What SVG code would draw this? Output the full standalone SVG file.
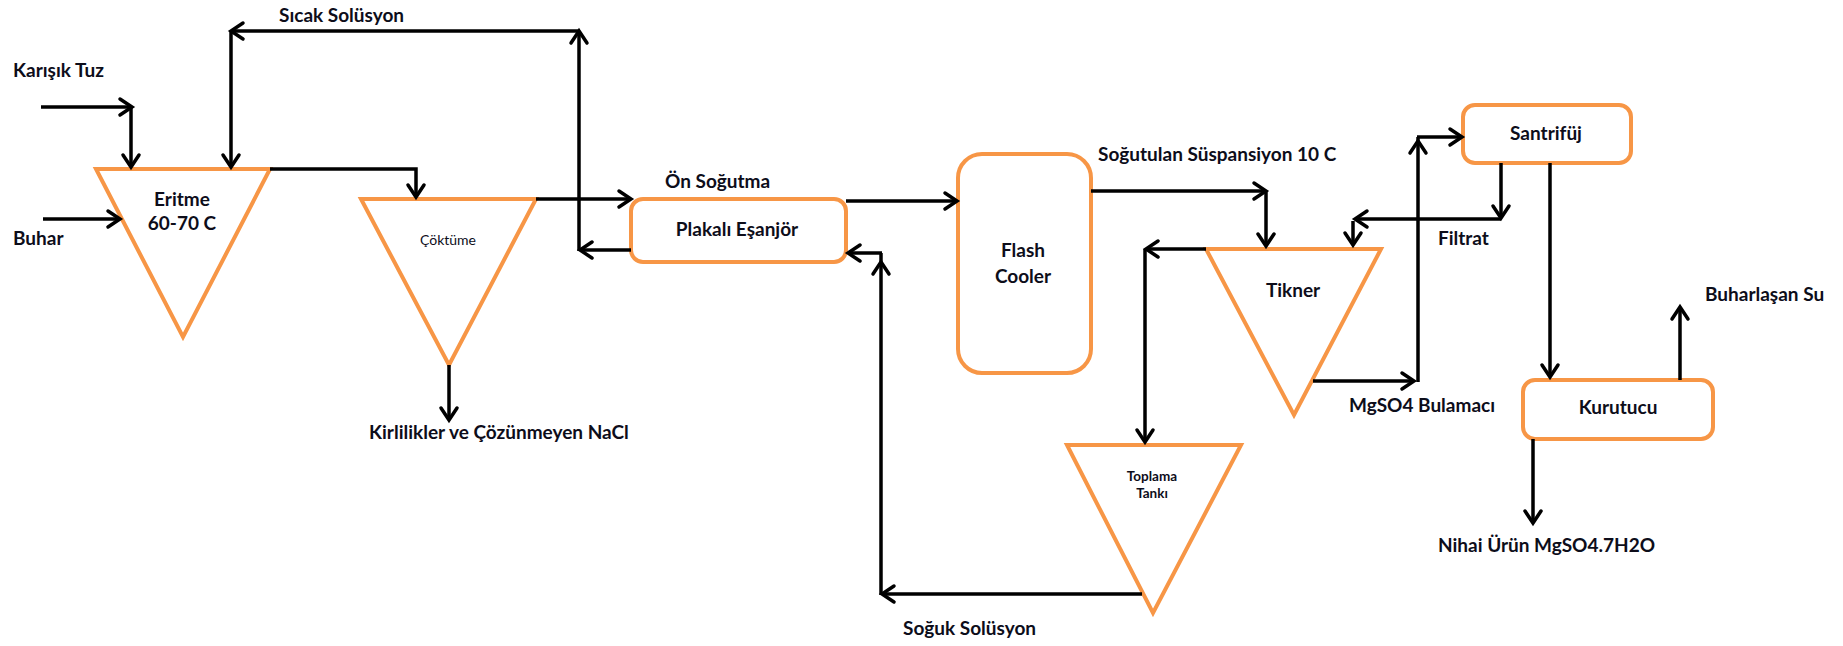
<svg xmlns="http://www.w3.org/2000/svg" width="1843" height="646" viewBox="0 0 1843 646">
  <defs>
    <marker id="arrow" viewBox="-14 -10 16 20" refX="0" refY="0" markerWidth="16" markerHeight="20" markerUnits="userSpaceOnUse" orient="auto" overflow="visible">
      <path d="M-12,-8 L0,0 L-12,8" fill="none" stroke="#000" stroke-width="3.5" stroke-linecap="round" stroke-linejoin="miter"/>
    </marker>
    <style>
      .unit { fill: #fff; stroke: #F79646; stroke-width: 4; stroke-linejoin: miter; }
      .flow { fill: none; stroke: #000; stroke-width: 3.5; }
      .flow.a { marker-end: url(#arrow); }
      text { font-family: Lato, "Open Sans", "Liberation Sans", sans-serif; font-weight: bold; fill: #0d0d1a; font-size: 19px; }
      .mid { text-anchor: middle; }
      .small { font-size: 13.5px; }
      .thin { font-weight: normal; font-size: 14px; }
    </style>
  </defs>
  <rect width="1843" height="646" fill="#fff"/>

  <!-- process units -->
  <g id="eritme">
    <polygon class="unit" points="96,169 270,169 183,337"/>
    <text class="mid" x="182" y="206">Eritme</text>
    <text class="mid" x="182" y="230">60-70 C</text>
  </g>
  <g id="cokturme">
    <polygon class="unit" points="361,199 536,199 449,365"/>
    <text class="mid thin" x="448" y="245">Çöktüme</text>
  </g>
  <g id="plakali-esanjor">
    <rect class="unit" x="631" y="199" width="215" height="63" rx="12"/>
    <text class="mid" x="737" y="236">Plakalı Eşanjör</text>
  </g>
  <g id="flash-cooler">
    <rect class="unit" x="958" y="154" width="133" height="219" rx="24"/>
    <text class="mid" x="1023" y="257">Flash</text>
    <text class="mid" x="1023" y="283">Cooler</text>
  </g>
  <g id="tikner">
    <polygon class="unit" points="1206,249 1381,249 1294,415"/>
    <text class="mid" x="1293" y="297">Tikner</text>
  </g>
  <g id="toplama-tanki">
    <polygon class="unit" points="1067,445 1241,445 1153,613"/>
    <text class="mid small" x="1152" y="481">Toplama</text>
    <text class="mid small" x="1152" y="498">Tankı</text>
  </g>
  <g id="santrifuj">
    <rect class="unit" x="1463" y="105" width="168" height="58" rx="12"/>
    <text class="mid" x="1546" y="140">Santrifüj</text>
  </g>
  <g id="kurutucu">
    <rect class="unit" x="1523" y="380" width="190" height="59" rx="12"/>
    <text class="mid" x="1618" y="414">Kurutucu</text>
  </g>

  <!-- stream lines -->
  <g id="connectors">
    <!-- feeds to Eritme -->
    <path class="flow a" d="M41,107 H132"/>
    <path class="flow a" d="M131,107 V167"/>
    <path class="flow a" d="M43,219 H120"/>
    <!-- hot solution loop -->
    <path class="flow a" d="M631,250 H580"/>
    <path class="flow a" d="M579,251 V31"/>
    <path class="flow a" d="M580,31 H231"/>
    <path class="flow a" d="M231,31 V167"/>
    <!-- Eritme to Çöktüme -->
    <path class="flow a" d="M270,169 H416 V197"/>
    <path class="flow a" d="M449,365 V420"/>
    <!-- Çöktüme to exchanger to flash cooler -->
    <path class="flow a" d="M536,199 H631"/>
    <path class="flow a" d="M846,201 H957"/>
    <!-- flash cooler to Tikner -->
    <path class="flow a" d="M1091,191 H1266"/>
    <path class="flow a" d="M1266,191 V246"/>
    <!-- Tikner overflow to collection tank -->
    <path class="flow a" d="M1206,249 H1146"/>
    <path class="flow a" d="M1145,249 V442"/>
    <!-- cold solution back to exchanger -->
    <path class="flow a" d="M1142,594 H882"/>
    <path class="flow" d="M881,262 V253"/>
    <path class="flow a" d="M881,595 V262"/>
    <path class="flow a" d="M882,253 H848"/>
    <!-- slurry to centrifuge -->
    <path class="flow a" d="M1313,381 H1414"/>
    <path class="flow" d="M1418,141 V137"/>
    <path class="flow a" d="M1418,382 V141"/>
    <path class="flow a" d="M1417,137 H1462"/>
    <!-- filtrate return -->
    <path class="flow a" d="M1501,163 V218"/>
    <path class="flow a" d="M1501,219 H1355"/>
    <path class="flow a" d="M1353,221 V245"/>
    <!-- centrifuge to dryer and products -->
    <path class="flow a" d="M1550,163 V377"/>
    <path class="flow a" d="M1680,380 V307"/>
    <path class="flow a" d="M1533,439 V523"/>
  </g>

  <!-- stream labels -->
  <g id="labels">
    <text x="279" y="22">Sıcak Solüsyon</text>
    <text x="13" y="77">Karışık Tuz</text>
    <text x="13" y="245">Buhar</text>
    <text x="369" y="439">Kirlilikler ve Çözünmeyen NaCl</text>
    <text x="665" y="188">Ön Soğutma</text>
    <text x="1098" y="161">Soğutulan Süspansiyon 10 C</text>
    <text x="903" y="635">Soğuk Solüsyon</text>
    <text x="1349" y="412">MgSO4 Bulamacı</text>
    <text x="1438" y="245">Filtrat</text>
    <text x="1705" y="301">Buharlaşan Su</text>
    <text x="1438" y="552">Nihai Ürün MgSO4.7H2O</text>
  </g>
</svg>
